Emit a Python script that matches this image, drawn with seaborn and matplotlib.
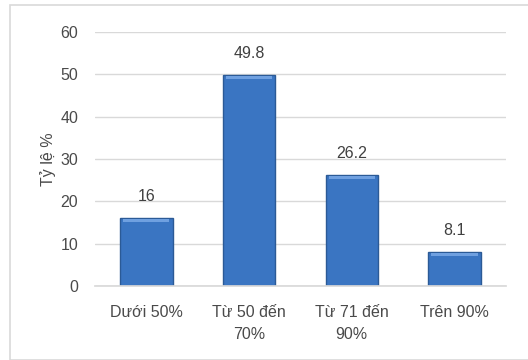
import matplotlib
matplotlib.use("Agg")
import matplotlib.pyplot as plt
import seaborn as sns
import pandas as pd
from matplotlib.patches import Rectangle

categories = ["Dưới 50%", "Từ 50 đến\n70%", "Từ 71 đến\n90%", "Trên 90%"]
values = [16, 49.8, 26.2, 8.1]
value_labels = ["16", "49.8", "26.2", "8.1"]
y_ticks = [0, 10, 20, 30, 40, 50, 60]

sns.set_theme(style="white")
plt.rcParams['font.family'] = ['Liberation Sans', 'DejaVu Sans']

df = pd.DataFrame({"cat": categories, "val": values})

fig = plt.figure(figsize=(5.28, 3.6), dpi=100)
fig.patch.set_facecolor("white")
fig.patches.append(Rectangle((10/528, 0), 1.2, 355/360, transform=fig.transFigure,
                             fill=False, edgecolor="#D9D9D9", linewidth=1.2))
ax = fig.add_axes([0.18, 0.2056, 0.778, 0.7054])

sns.barplot(data=df, x="cat", y="val", color="#3A75C2", edgecolor="#2B5A96",
            linewidth=1.0, width=0.51, ax=ax, saturation=1)

# highlight strip on top of bars
for p in ax.patches:
    x0, w, h = p.get_x(), p.get_width(), p.get_height()
    ax.add_patch(Rectangle((x0 + w*0.06, h - 0.9), w*0.88, 0.7, color="#6FA0E0",
                           linewidth=0, zorder=3))

for i, (v, lab) in enumerate(zip(values, value_labels)):
    ax.annotate(lab, (i, v), xytext=(0, 10), textcoords="offset points",
                ha="center", va="bottom", fontsize=11.5, color="#404040")

ax.set_ylim(0, 60)
ax.set_xlim(-0.5, 3.5)
ax.set_yticks(y_ticks)
ax.yaxis.grid(True, color="#D9D9D9", linewidth=1.0)
ax.set_axisbelow(True)
for s in ["top", "right", "left"]:
    ax.spines[s].set_visible(False)
ax.spines["bottom"].set_color("#D9D9D9")
ax.tick_params(axis="both", length=0, labelsize=11.5, colors="#4A4A4A")
ax.tick_params(axis="y", pad=12)
ax.tick_params(axis="x", pad=14)
for t in ax.get_xticklabels():
    t.set_linespacing(1.55)
ax.set_xlabel("")
ax.set_ylabel("Tỷ lệ %", fontsize=11.5, color="#4A4A4A", labelpad=3)

fig.savefig("out.png", dpi=100)
